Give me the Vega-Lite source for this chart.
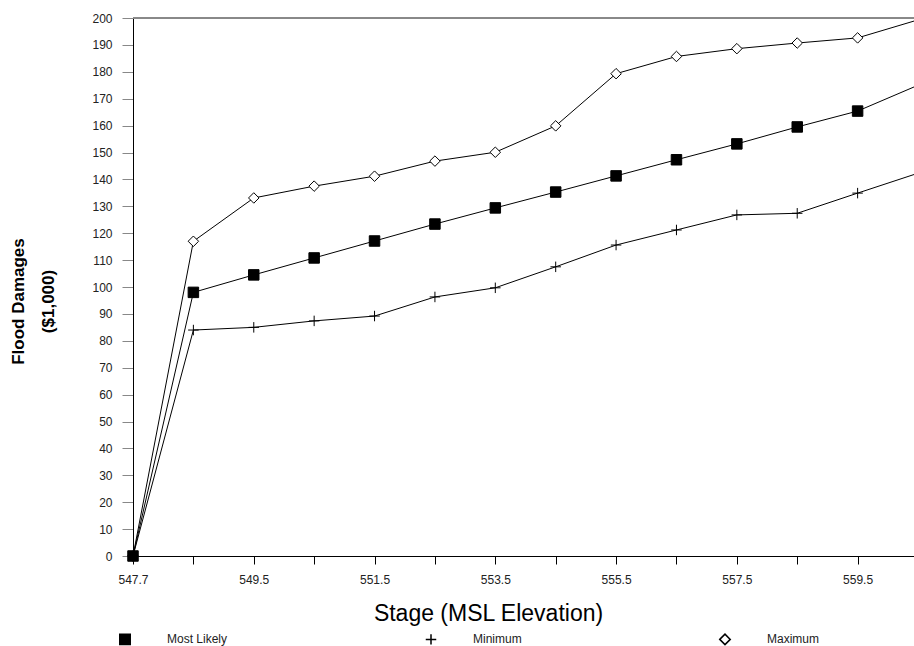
{
  "$schema": "https://vega.github.io/schema/vega-lite/v6.json",
  "width": 781,
  "height": 538,
  "autosize": {"type": "none"},
  "padding": {"left": 133, "top": 18, "right": 0, "bottom": 90},
  "background": "white",
  "config": {
    "view": {"stroke": null},
    "font": "Liberation Sans",
    "axis": {"labelFont": "Liberation Sans", "titleFont": "Liberation Sans", "labelColor": "#222", "titleColor": "#000", "grid": false}
  },
  "data": {
    "values": [
      {"stage": "547.7", "series": "Maximum", "damage": 0},
      {"stage": "548.5", "series": "Maximum", "damage": 117},
      {"stage": "549.5", "series": "Maximum", "damage": 133.1},
      {"stage": "550.5", "series": "Maximum", "damage": 137.5},
      {"stage": "551.5", "series": "Maximum", "damage": 141.2},
      {"stage": "552.5", "series": "Maximum", "damage": 146.8},
      {"stage": "553.5", "series": "Maximum", "damage": 150.1},
      {"stage": "554.5", "series": "Maximum", "damage": 159.9},
      {"stage": "555.5", "series": "Maximum", "damage": 179.3},
      {"stage": "556.5", "series": "Maximum", "damage": 185.7},
      {"stage": "557.5", "series": "Maximum", "damage": 188.6},
      {"stage": "558.5", "series": "Maximum", "damage": 190.7},
      {"stage": "559.5", "series": "Maximum", "damage": 192.6},
      {"stage": "560.5", "series": "Maximum", "damage": 199.3},
      {"stage": "547.7", "series": "Minimum", "damage": 0},
      {"stage": "548.5", "series": "Minimum", "damage": 84},
      {"stage": "549.5", "series": "Minimum", "damage": 85},
      {"stage": "550.5", "series": "Minimum", "damage": 87.4},
      {"stage": "551.5", "series": "Minimum", "damage": 89.2},
      {"stage": "552.5", "series": "Minimum", "damage": 96.3},
      {"stage": "553.5", "series": "Minimum", "damage": 99.7},
      {"stage": "554.5", "series": "Minimum", "damage": 107.5},
      {"stage": "555.5", "series": "Minimum", "damage": 115.6},
      {"stage": "556.5", "series": "Minimum", "damage": 121.2},
      {"stage": "557.5", "series": "Minimum", "damage": 126.8},
      {"stage": "558.5", "series": "Minimum", "damage": 127.4},
      {"stage": "559.5", "series": "Minimum", "damage": 134.9},
      {"stage": "560.5", "series": "Minimum", "damage": 142.3},
      {"stage": "547.7", "series": "Most Likely", "damage": 0},
      {"stage": "548.5", "series": "Most Likely", "damage": 98},
      {"stage": "549.5", "series": "Most Likely", "damage": 104.5},
      {"stage": "550.5", "series": "Most Likely", "damage": 110.8},
      {"stage": "551.5", "series": "Most Likely", "damage": 117.1},
      {"stage": "552.5", "series": "Most Likely", "damage": 123.4},
      {"stage": "553.5", "series": "Most Likely", "damage": 129.4},
      {"stage": "554.5", "series": "Most Likely", "damage": 135.3},
      {"stage": "555.5", "series": "Most Likely", "damage": 141.3},
      {"stage": "556.5", "series": "Most Likely", "damage": 147.3},
      {"stage": "557.5", "series": "Most Likely", "damage": 153.2},
      {"stage": "558.5", "series": "Most Likely", "damage": 159.5},
      {"stage": "559.5", "series": "Most Likely", "damage": 165.4},
      {"stage": "560.5", "series": "Most Likely", "damage": 175}
    ]
  },
  "encoding": {
    "x": {
      "field": "stage",
      "type": "ordinal",
      "sort": null,
      "scale": {"type": "point", "padding": 0, "range": [0, 785],
        "domain": ["547.7","548.5","549.5","550.5","551.5","552.5","553.5","554.5","555.5","556.5","557.5","558.5","559.5","560.5"]},
      "axis": {
        "title": "Stage (MSL Elevation)",
        "titleFontSize": 23,
        "titleFontWeight": "normal",
        "titleX": 355,
        "titleY": 64,
        "titleBaseline": "alphabetic",
        "titleAlign": "center",
        "labelAngle": 0,
        "labelFontSize": 12,
        "labelPadding": 10,
        "labelOverlap": false,
        "labelExpr": "indexof(['547.7','549.5','551.5','553.5','555.5','557.5','559.5'], datum.label) >= 0 ? datum.label : ''",
        "tickSize": 8,
        "tickColor": "#000",
        "domainColor": "#000",
        "tickWidth": 1,
        "domainWidth": 1
      }
    },
    "y": {
      "field": "damage",
      "type": "quantitative",
      "scale": {"domain": [0, 200], "nice": false, "zero": true},
      "axis": {
        "title": ["Flood Damages", "($1,000)"],
        "titleFontSize": 17,
        "titleFontWeight": "bold",
        "titleLineHeight": 30,
        "titleAngle": -90,
        "titleBaseline": "top",
        "titleAlign": "center",
        "titleX": -123,
        "titleY": 283,
        "values": [0,10,20,30,40,50,60,70,80,90,100,110,120,130,140,150,160,170,180,190,200],
        "labelFontSize": 12,
        "labelPadding": 10,
        "tickSize": 11,
        "tickColor": "#888",
        "domainColor": "#000",
        "labelFlush": false
      }
    }
  },
  "layer": [
    {
      "mark": {"type": "rule", "color": "#888", "strokeWidth": 1},
      "encoding": {"y": {"datum": 200}, "x": null}
    },
    {
      "mark": {"type": "line", "color": "#000", "strokeWidth": 1, "clip": true},
      "encoding": {"detail": {"field": "series"}}
    },
    {
      "transform": [{"filter": "datum.stage != '560.5'"}],
      "mark": {"type": "point", "size": 110, "stroke": "#000", "strokeWidth": 1, "opacity": 1, "filled": false, "clip": false},
      "encoding": {
        "fill": {
          "field": "series",
          "type": "nominal",
          "scale": {"domain": ["Most Likely", "Minimum", "Maximum"], "range": ["#000", "transparent", "#fff"]},
          "legend": {
            "title": null,
            "orient": "none",
            "legendX": -14,
            "legendY": 615,
            "direction": "horizontal",
            "columns": 3,
            "padding": 0,
            "columnPadding": 194,
            "labelOffset": 36,
            "labelFontSize": 12,
            "labelFont": "Liberation Sans",
            "labelColor": "#222",
            "symbolSize": 110,
            "encode": {"symbols": {
              "stroke": {"value": "#000"},
              "strokeWidth": {"value": 1},
              "opacity": {"value": 1}
            }}
          }
        },
        "shape": {
          "field": "series",
          "type": "nominal",
          "scale": {"domain": ["Most Likely", "Minimum", "Maximum"], "range": ["square", "M-1,0L1,0M0,-1L0,1", "diamond"]},
          "legend": {
            "title": null,
            "orient": "none",
            "legendX": -14,
            "legendY": 615,
            "direction": "horizontal",
            "columns": 3,
            "padding": 0,
            "columnPadding": 194,
            "labelOffset": 36,
            "labelFontSize": 12,
            "labelFont": "Liberation Sans",
            "labelColor": "#222",
            "symbolSize": 110,
            "encode": {"symbols": {
              "stroke": {"value": "#000"},
              "strokeWidth": {"value": 1},
              "opacity": {"value": 1}
            }}
          }
        }
      }
    }
  ]
}
